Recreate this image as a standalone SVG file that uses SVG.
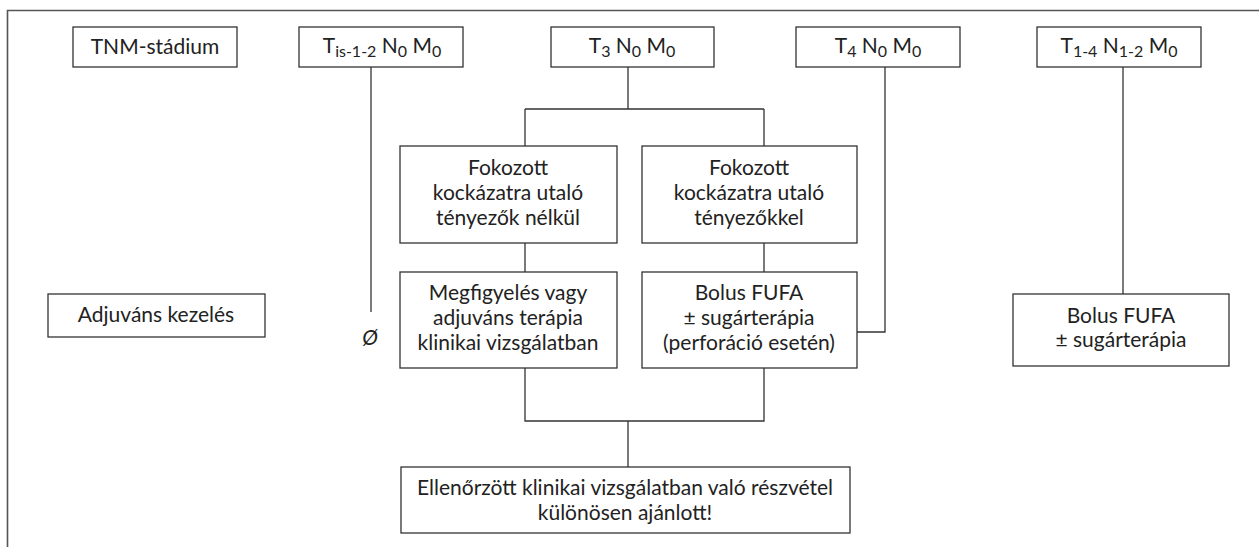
<svg xmlns="http://www.w3.org/2000/svg" width="1259" height="547" viewBox="0 0 1259 547">
<style>
.box{fill:#fff;stroke:#333;stroke-width:1.3}
.ln{fill:none;stroke:#333;stroke-width:1.3}
.fr{fill:none;stroke:#555;stroke-width:1.6}
text{font-family:Lato,"Open Sans","DejaVu Sans",sans-serif;font-size:21px;fill:#222;text-anchor:middle}
.sub{font-size:16px}
</style>
<rect width="1259" height="547" fill="#fff"/>
<g id="frame"><path class="fr" d="M7.5,547 V10.5 H1259"/></g>
<g id="connectors">
<path class="ln" d="M371,67 V312"/>
<path class="ln" d="M628,67 V109 M525,109 H764 M525,109 V146 M764,109 V146"/>
<path class="ln" d="M525,243 V272 M764,243 V272"/>
<path class="ln" d="M525,368 V421 H764 V368 M628,421 V467"/>
<path class="ln" d="M885,67 V332 H857"/>
<path class="ln" d="M1123,67 V294"/>
</g>
<g id="n-tnm"><rect class="box" x="73" y="27" width="164" height="40"/><text x="155" y="54">TNM-stádium</text></g>
<g id="n-tis"><rect class="box" x="299" y="27" width="164" height="40"/><text x="382" y="53">T<tspan class="sub" dy="4" font-size="17">is-1-2</tspan><tspan dy="-4"> N</tspan><tspan class="sub" dy="4">0</tspan><tspan dy="-4"> M</tspan><tspan class="sub" dy="4">0</tspan></text></g>
<g id="n-t3"><rect class="box" x="551" y="27" width="163" height="40"/><text x="632" y="53">T<tspan class="sub" dy="4">3</tspan><tspan dy="-4"> N</tspan><tspan class="sub" dy="4">0</tspan><tspan dy="-4"> M</tspan><tspan class="sub" dy="4">0</tspan></text></g>
<g id="n-t4"><rect class="box" x="796" y="27" width="164" height="40"/><text x="878" y="53">T<tspan class="sub" dy="4">4</tspan><tspan dy="-4"> N</tspan><tspan class="sub" dy="4">0</tspan><tspan dy="-4"> M</tspan><tspan class="sub" dy="4">0</tspan></text></g>
<g id="n-t14"><rect class="box" x="1037" y="27" width="164" height="40"/><text x="1119" y="53">T<tspan class="sub" dy="4">1-4</tspan><tspan dy="-4"> N</tspan><tspan class="sub" dy="4">1-2</tspan><tspan dy="-4"> M</tspan><tspan class="sub" dy="4">0</tspan></text></g>
<g id="n-fok1"><rect class="box" x="400" y="146" width="217" height="97"/><text x="508" y="175">Fokozott</text><text x="508" y="200">kockázatra utaló</text><text x="508" y="225">tényezők nélkül</text></g>
<g id="n-fok2"><rect class="box" x="642" y="146" width="215" height="97"/><text x="749" y="175">Fokozott</text><text x="749" y="200">kockázatra utaló</text><text x="749" y="225">tényezőkkel</text></g>
<g id="n-adj"><rect class="box" x="48" y="294" width="217" height="43"/><text x="156" y="322">Adjuváns kezelés</text></g>
<g id="n-empty"><text x="370" y="345" font-style="italic">Ø</text></g>
<g id="n-megf"><rect class="box" x="400" y="272" width="217" height="96"/><text x="508" y="300">Megfigyelés vagy</text><text x="508" y="325">adjuváns terápia</text><text x="508" y="350">klinikai vizsgálatban</text></g>
<g id="n-bolus1"><rect class="box" x="642" y="272" width="215" height="96"/><text x="749" y="300">Bolus FUFA</text><text x="749" y="325">± sugárterápia</text><text x="749" y="350">(perforáció esetén)</text></g>
<g id="n-bolus2"><rect class="box" x="1013" y="294" width="216" height="72"/><text x="1121" y="323">Bolus FUFA</text><text x="1121" y="347">± sugárterápia</text></g>
<g id="n-final"><rect class="box" x="401" y="467" width="449" height="66"/><text x="625" y="495">Ellenőrzött klinikai vizsgálatban való részvétel</text><text x="625" y="520">különösen ajánlott!</text></g>
</svg>
